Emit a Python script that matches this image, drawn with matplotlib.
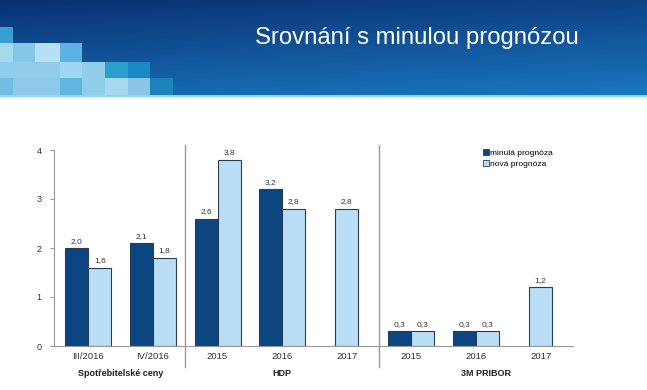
import numpy as np
import matplotlib
matplotlib.use("Agg")
import matplotlib.pyplot as plt
from matplotlib.patches import Rectangle

plt.rcParams['font.family'] = ['Liberation Sans', 'DejaVu Sans']

# chart data
categories = ["III/2016", "IV/2016", "2015", "2016", "2017", "2015", "2016", "2017"]
old_forecast = [2.0, 2.1, 2.6, 3.2, None, 0.3, 0.3, None]
new_forecast = [1.6, 1.8, 3.8, 2.8, 2.8, 0.3, 0.3, 1.2]
groups = ["Spotřebitelské ceny", "HDP", "3M PRIBOR"]
group_centers = [0.5, 3.0, 6.15]
group_bounds = [1.5, 4.5]
series_names = ["minulá prognóza", "nová prognóza"]

DARK = "#0b4680"
LIGHT = "#b9def5"
EDGE = "#2b3d50"
GRAY = "#9a9a9a"

fig = plt.figure(figsize=(6.47, 3.9), dpi=100)

# --- slide header ---
hdr = fig.add_axes([0, 1 - 97 / 390, 1, 97 / 390])
hdr.set_axis_off()
h, w = 60, 200
yy, xx = np.mgrid[0:1:h * 1j, 0:1:w * 1j]
top = np.array([0.04, 0.19, 0.45])
bot = np.array([0.10, 0.47, 0.75])
t = (0.75 * yy + 0.25 * xx)[..., None]
grad = top * (1 - t) + bot * t
hdr.imshow(grad, extent=[0, 647, 97, 0], aspect='auto')
hdr.set_xlim(0, 647)
hdr.set_ylim(97, 0)
squares = [
    (0, 27, 13, 16, "#3a9fd2"),
    (0, 43, 13, 19, "#a6d8f0"), (13, 43, 22, 19, "#86c6e8"),
    (35, 43, 25, 19, "#b6e0f4"), (60, 43, 22, 19, "#5cb2e2"),
    (0, 62, 60, 16, "#90cdea"), (60, 62, 22, 16, "#a0d6f0"),
    (82, 62, 23, 16, "#90cde8"), (105, 62, 23, 16, "#2aa0cc"),
    (128, 62, 22, 16, "#1a88c4"),
    (0, 78, 13, 17, "#72bde2"), (13, 78, 47, 17, "#8cc9e8"),
    (60, 78, 22, 17, "#62b5e0"), (82, 78, 23, 17, "#90cde8"),
    (105, 78, 23, 17, "#a8d8f0"), (128, 78, 22, 17, "#8ac6e6"),
    (150, 78, 23, 17, "#1c82bc"),
]
for x0, y0, sw, sh, c in squares:
    hdr.add_patch(Rectangle((x0, y0), sw, sh, color=c, lw=0))
hdr.add_patch(Rectangle((0, 94.5), 647, 2.5, color="#86dcf2", lw=0))
hdr.text(417, 38, "Srovnání s minulou prognózou", color="white",
         fontsize=17.2, ha='center', va='center')

# --- chart ---
ax = fig.add_axes([54 / 647, 1 - 346 / 390, (573 - 54) / 647, 196 / 390])
x = np.arange(len(categories))
bw = 0.356

for i in x:
    if old_forecast[i] is not None:
        ax.bar(i - bw / 2, old_forecast[i], bw, color=DARK, edgecolor=EDGE, lw=0.8)
        ax.text(i - bw / 2, old_forecast[i] + 0.07, f"{old_forecast[i]:.1f}".replace('.', ','),
                ha='center', va='bottom', fontsize=6, color="#333333")
        ax.bar(i + bw / 2, new_forecast[i], bw, color=LIGHT, edgecolor=EDGE, lw=0.8)
        ax.text(i + bw / 2, new_forecast[i] + 0.07, f"{new_forecast[i]:.1f}".replace('.', ','),
                ha='center', va='bottom', fontsize=6, color="#333333")
    else:
        ax.bar(i, new_forecast[i], bw, color=LIGHT, edgecolor=EDGE, lw=0.8)
        ax.text(i, new_forecast[i] + 0.07, f"{new_forecast[i]:.1f}".replace('.', ','),
                ha='center', va='bottom', fontsize=6, color="#333333")

ax.set_xlim(-0.53, 7.5)
ax.set_ylim(0, 4)
ax.set_yticks([0, 1, 2, 3, 4])
ax.set_yticklabels(["0", "1", "2", "3", "4"], fontsize=6.5, color="#333333")
ax.set_xticks(x)
ax.set_xticklabels(categories, fontsize=6.8, color="#333333")
ax.tick_params(axis='x', length=0, pad=4)
ax.tick_params(axis='y', length=3, color=GRAY, pad=6)
for s in ["top", "right"]:
    ax.spines[s].set_visible(False)
for s in ["left", "bottom"]:
    ax.spines[s].set_color(GRAY)
    ax.spines[s].set_linewidth(0.8)

for b in group_bounds:
    ax.axvline(b, ymin=-0.107, ymax=1.026, color=GRAY, lw=1, clip_on=False)

for g, c in zip(groups, group_centers):
    ax.text(c, -0.14, g, transform=ax.get_xaxis_transform(), ha='center', va='center',
            fontsize=6.5, fontweight='bold', color="#222222")

# legend
h1 = Rectangle((0, 0), 1, 1, facecolor=DARK, edgecolor=EDGE, lw=0.6)
h2 = Rectangle((0, 0), 1, 1, facecolor=LIGHT, edgecolor=EDGE, lw=0.6)
ax.legend([h1, h2], series_names, loc='upper left', bbox_to_anchor=(0.82, 1.02),
          frameon=False, fontsize=6, handlelength=0.7, handleheight=0.7,
          handletextpad=0.2, labelspacing=0.3, borderaxespad=0)

fig.savefig("out.png", dpi=100, facecolor="white")
